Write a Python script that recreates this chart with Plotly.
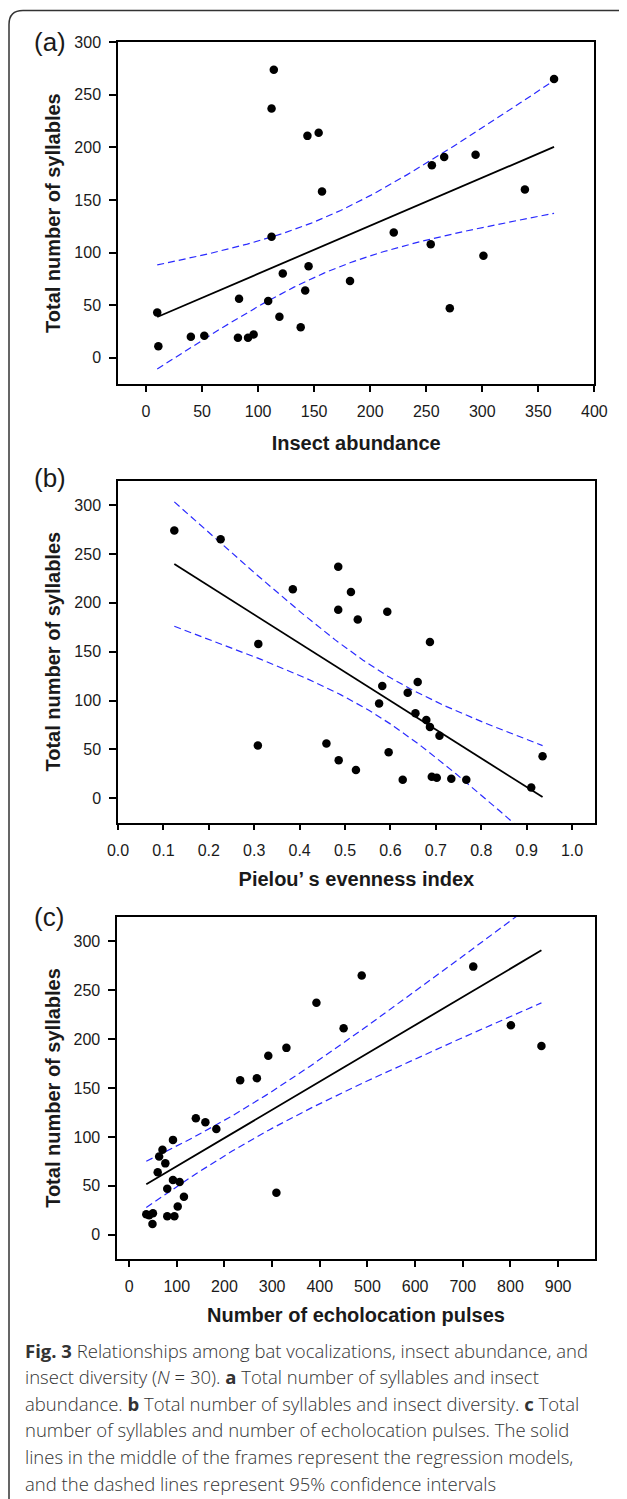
import numpy as np
import plotly.graph_objects as go

# ---------------- data ----------------
syllables = [274, 265, 237, 214, 211, 193, 191, 183, 160, 158, 119, 115, 108, 97, 87,
             80, 73, 64, 56, 54, 47, 43, 39, 29, 22, 21, 20, 19, 19, 11]
insect_abundance = [114, 364, 112, 154, 144, 294, 266, 255, 338, 157, 221, 112, 254, 301, 145,
                    122, 182, 142, 83, 109, 271, 10, 119, 138, 96, 52, 40, 82, 91, 11]
pielou_evenness = [0.124, 0.226, 0.485, 0.385, 0.513, 0.485, 0.593, 0.528, 0.687, 0.309,
                   0.660, 0.582, 0.638, 0.575, 0.655, 0.679, 0.687, 0.708, 0.459, 0.308,
                   0.596, 0.935, 0.486, 0.524, 0.691, 0.702, 0.734, 0.627, 0.767, 0.910]
echolocation_pulses = [722, 488, 393, 801, 450, 865, 330, 292, 268, 233, 140, 160, 183, 92, 70,
                       63, 76, 60, 92, 106, 80, 309, 115, 102, 50, 36, 42, 80, 95, 49]

x_titles = ["Insect abundance", "Pielou\u2019 s evenness index", "Number of echolocation pulses"]
y_title = "Total number of syllables"
panel_labels = ["(a)", "(b)", "(c)"]
x_ticks = [list(range(0, 401, 50)),
           [0.0, 0.1, 0.2, 0.3, 0.4, 0.5, 0.6, 0.7, 0.8, 0.9, 1.0],
           list(range(0, 901, 100))]
y_ticks = list(range(0, 301, 50))
caption_lines = [
    "<b>Fig. 3</b> Relationships among bat vocalizations, insect abundance, and",
    "insect diversity (<i>N</i> = 30). <b>a</b> Total number of syllables and insect",
    "abundance. <b>b</b> Total number of syllables and insect diversity. <b>c</b> Total",
    "number of syllables and number of echolocation pulses. The solid",
    "lines in the middle of the frames represent the regression models,",
    "and the dashed lines represent 95% confidence intervals",
]
T_CRIT = 2.048  # t(0.975, df = 28)

W, H = 627, 1499
OFF = 8  # the page body margin shifts the figure by 8 px
FONT = "Liberation Sans, Arial, Helvetica, sans-serif"


def fit_with_ci(x, y):
    x = np.asarray(x, float)
    y = np.asarray(y, float)
    n = len(x)
    xm, ym = x.mean(), y.mean()
    sxx = ((x - xm) ** 2).sum()
    b1 = ((x - xm) * (y - ym)).sum() / sxx
    b0 = ym - b1 * xm
    resid = y - (b0 + b1 * x)
    s = np.sqrt((resid ** 2).sum() / (n - 2))
    xs = np.linspace(x.min(), x.max(), 120)
    yh = b0 + b1 * xs
    half = T_CRIT * s * np.sqrt(1.0 / n + (xs - xm) ** 2 / sxx)
    return xs, yh, yh - half, yh + half


def px_x(p):
    return (p - OFF) / W


def px_y(p):
    return 1 - (p - OFF) / H


panels = [
    dict(x=insect_abundance, xr=[-25, 400], yr=[-25, 300], xd=[118, 594.4], yd=[42.3, 384],
         fmt="", xstand=17),
    dict(x=pielou_evenness, xr=[0, 1.05], yr=[-25, 325], xd=[118, 594.8], yd=[480.7, 822.7],
         fmt=".1f", xstand=14),
    dict(x=echolocation_pulses, xr=[-25, 977], yr=[-25, 325], xd=[117.2, 594.8], yd=[916.7, 1259.3],
         fmt="", xstand=14),
]

fig = go.Figure()
annotations = []
layout = {}
for i, p in enumerate(panels):
    k = "" if i == 0 else str(i + 1)
    xa, ya = "x" + k, "y" + k
    xs, yh, lo, hi = fit_with_ci(p["x"], syllables)
    fig.add_trace(go.Scatter(x=xs, y=hi, mode="lines", xaxis=xa, yaxis=ya,
                             line=dict(color="#2a2aff", width=1.2, dash="7px,4px"), showlegend=False))
    fig.add_trace(go.Scatter(x=xs, y=lo, mode="lines", xaxis=xa, yaxis=ya,
                             line=dict(color="#2a2aff", width=1.2, dash="7px,4px"), showlegend=False))
    fig.add_trace(go.Scatter(x=xs, y=yh, mode="lines", xaxis=xa, yaxis=ya,
                             line=dict(color="black", width=1.8), showlegend=False))
    fig.add_trace(go.Scatter(x=p["x"], y=syllables, mode="markers", xaxis=xa, yaxis=ya,
                             marker=dict(color="black", size=8.5), showlegend=False,
                             cliponaxis=False))
    common = dict(showline=True, mirror=True, linecolor="black", linewidth=1.5,
                  ticks="outside", tickwidth=1.5, tickcolor="black", showgrid=False,
                  zeroline=False, automargin=False,
                  tickfont=dict(family=FONT, size=16, color="#1a1a1a"))
    layout["xaxis" + k] = dict(common, domain=[px_x(p["xd"][0]), px_x(p["xd"][1])],
                               range=p["xr"], tickvals=x_ticks[i], tickformat=p["fmt"],
                               ticklen=6, ticklabelstandoff=6, anchor=ya,
                               title=dict(text="<b>" + x_titles[i] + "</b>", standoff=p["xstand"],
                                          font=dict(family=FONT, size=20, color="#1a1a1a")))
    layout["yaxis" + k] = dict(common, domain=[px_y(p["yd"][1]), px_y(p["yd"][0])],
                               range=p["yr"], tickvals=y_ticks, ticklen=7, ticklabelstandoff=5,
                               anchor=xa,
                               title=dict(text="<b>" + y_title + "</b>", standoff=8,
                                          font=dict(family=FONT, size=20, color="#1a1a1a")))
    annotations.append(dict(text=panel_labels[i], xref="paper", yref="paper",
                            x=px_x(32), y=px_y([42, 478, 917][i]), xanchor="left", yanchor="middle",
                            showarrow=False, font=dict(family=FONT, size=26, color="#1a1a1a")))

for j, line in enumerate(caption_lines):
    annotations.append(dict(text=line, xref="paper", yref="paper", x=px_x(23),
                            y=px_y(1350 + j * 26.6), xanchor="left", yanchor="middle",
                            showarrow=False, align="left",
                            font=dict(family="Open Sans, Lato, sans-serif", size=18.5,
                                      weight=300, color="#333333")))

# rounded page frame (top-left corner)
fx0, fy0, r = 9, 10.5, 14
frame_path = (f"M {px_x(fx0)},{px_y(1510)} L {px_x(fx0)},{px_y(fy0 + r)} "
              f"Q {px_x(fx0)},{px_y(fy0)} {px_x(fx0 + r)},{px_y(fy0)} L 1.02,{px_y(fy0)}")

fig.update_layout(
    width=W, height=H, autosize=False,
    margin=dict(l=0, r=0, t=0, b=0),
    paper_bgcolor="white", plot_bgcolor="white",
    font=dict(family=FONT),
    annotations=annotations,
    shapes=[dict(type="path", path=frame_path, xref="paper", yref="paper",
                 line=dict(color="#333333", width=1.5))],
    **layout,
)

fig.write_html("out.html")
